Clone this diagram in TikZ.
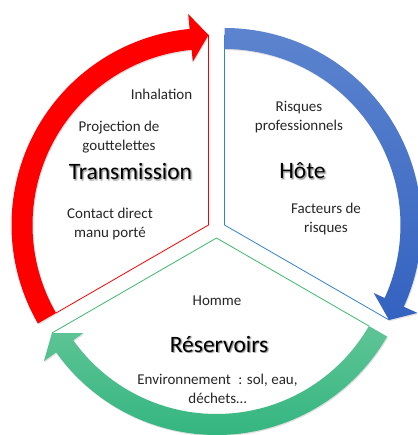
\documentclass[tikz,border=0pt]{standalone}
\usepackage{fontspec}
\setmainfont{Carlito}
\usetikzlibrary{calc}
\newcommand\cycarrow[5]{% #1 vertex, #2 start, #3 tip, #4 head base, #5 options
  \path[#5] ($(#1)+(#2:197)$) arc[start angle=#2, end angle=#4, radius=197]
    -- ($(#1)+(#4:212)$) -- ($(#1)+(#3:190)$) -- ($(#1)+(#4:164)$)
    -- ($(#1)+(#4:176)$) arc[start angle=#4, end angle=#2, radius=176] -- cycle;}
\newcommand\bigshadowed[3]{% #1 name, #2 position, #3 text
  \foreach \dx/\dy in {1/-1, 1.8/-1.8, 0.4/-1.6, 1.6/-0.4}
    \node[big, text=black, opacity=0.13] at ($#2+(\dx,\dy)$) {#3};
  \node[big] (#1) at #2 {#3};}
\definecolor{myred}{RGB}{255,0,0}
\definecolor{bluetop}{RGB}{92,132,206}
\definecolor{bluebot}{RGB}{52,98,192}
\definecolor{blueline}{RGB}{52,130,210}
\definecolor{greentop}{RGB}{95,196,150}
\definecolor{greenbot}{RGB}{52,182,128}
\definecolor{greenline}{RGB}{60,185,110}
\tikzset{
  small/.style={font=\fontsize{15}{18.5}\selectfont, align=center, text=black!85},
  big/.style={font=\fontsize{23.5}{28}\selectfont, text=black},
  sectorline/.style={line width=0.8pt},
  arrowshadow/.style={fill=black, opacity=0.12},
}
\begin{document}
\begin{tikzpicture}[x=1pt,y=1pt]
\useasboundingbox (0,0) rectangle (417,-435);
\coordinate (Vr) at (208.5,-225);
\coordinate (Vb) at (224.5,-225);
\coordinate (Vg) at (216.5,-238);
\coordinate (Tr) at ($(Vr)+(90:190)$);
\coordinate (Er) at ($(Vr)+(210:176)$);
\coordinate (Tb) at ($(Vb)+(-30:190)$);
\coordinate (Eb) at ($(Vb)+(90:190)$);
\coordinate (Tg) at ($(Vg)+(-150:190)$);
\coordinate (Eg) at ($(Vg)+(-30:176)$);
\coordinate (Vrs) at ($(Vr)+(0.8,-1.2)$);
\coordinate (Vbs) at ($(Vb)+(0.8,-1.2)$);
\coordinate (Vgs) at ($(Vg)+(0.8,-1.2)$);
% sector lines
\draw[sectorline, myred] (Er) -- (Vr) -- (Tr);
\draw[sectorline, blueline] (Eb) -- (Vb) -- (Tb);
\draw[sectorline, greenline] (Eg) -- (Vg) -- (Tg);
% arrow shadows
\cycarrow{Vrs}{210}{90}{95.5}{arrowshadow}
\cycarrow{Vbs}{90}{-30}{-24.5}{arrowshadow}
\cycarrow{Vgs}{-30}{-150}{-144.5}{arrowshadow}
% arrows
\cycarrow{Vr}{210}{90}{95.5}{fill=myred}
\cycarrow{Vb}{90}{-30}{-24.5}{top color=bluetop, bottom color=bluebot}
\cycarrow{Vg}{-30}{-150}{-144.5}{top color=greentop, bottom color=greenbot}
% texts
\node[small] (inh) at (161.5,-94) {Inhalation};
\node[small] (proj) at (119,-137) {Projection de\\gouttelettes};
\bigshadowed{trans}{(130.5,-171.5)}{Transmission}
\node[small] (cont) at (110,-224) {Contact direct\\manu porté};
\node[small] (risq) at (299,-117) {Risques\\professionnels};
\bigshadowed{hote}{(302.5,-171)}{Hôte}
\node[small] (fact) at (326,-219) {Facteurs de\\risques};
\node[small] (hom) at (217,-301) {Homme};
\bigshadowed{res}{(219,-344)}{Réservoirs}
\node[small] (env) at (217.5,-389) {Environnement\hspace{0.5em}: sol, eau,\\déchets…};
\end{tikzpicture}
\end{document}
